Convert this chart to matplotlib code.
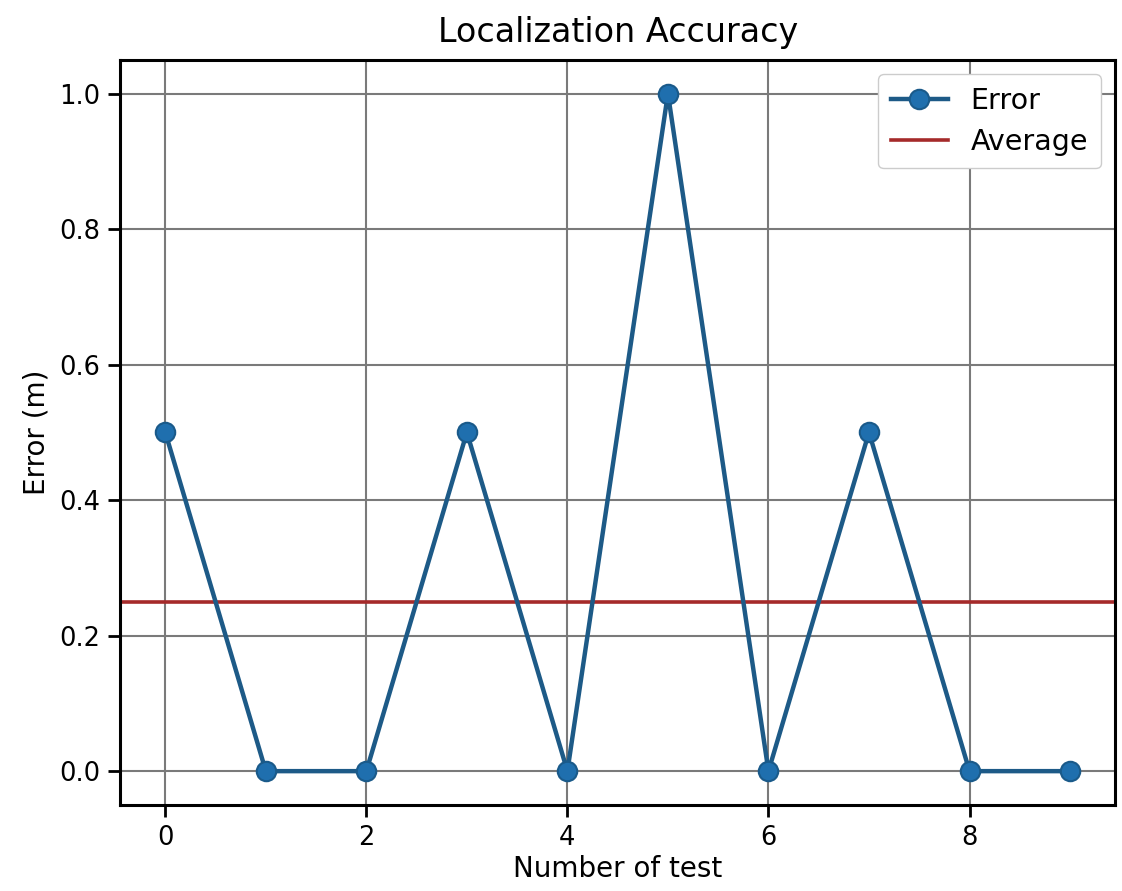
import matplotlib
matplotlib.use("Agg")
import matplotlib.pyplot as plt
import numpy as np

# Localization error for each test run (metres)
tests = list(range(10))
errors = [0.5, 0.0, 0.0, 0.5, 0.0, 1.0, 0.0, 0.5, 0.0, 0.0]
average_error = float(np.mean(errors))

fig = plt.figure(figsize=(11.22, 8.91), dpi=100)
ax = fig.add_axes([0.107, 0.0965, 0.887, 0.8365])

ax.plot(tests, errors, color="#1d5a87", linewidth=3.2, marker="o",
        markersize=14, markerfacecolor="#1f6fae", markeredgecolor="#1a5a8a",
        markeredgewidth=1.5, label="Error", zorder=3)
ax.axhline(average_error, color="#a52a2a", linewidth=2.6, label="Average", zorder=2)

ax.set_xlim(-0.45, 9.45)
ax.set_ylim(-0.05, 1.05)
ax.set_xticks([0, 2, 4, 6, 8])
ax.set_yticks([0.0, 0.2, 0.4, 0.6, 0.8, 1.0])
ax.set_yticklabels(["0.0", "0.2", "0.4", "0.6", "0.8", "1.0"])
ax.grid(True, color="#7a7a7a", linewidth=1.5)
ax.set_axisbelow(True)

ax.tick_params(labelsize=18.5, length=8.5, width=2.0, pad=6)
for s in ax.spines.values():
    s.set_linewidth(2.2)

ax.set_title("Localization Accuracy", fontsize=24, pad=13)
ax.set_xlabel("Number of test", fontsize=20, labelpad=3)
ax.set_ylabel("Error (m)", fontsize=20, labelpad=6)

ax.legend(loc="upper right", fontsize=20.5, handlelength=2.0, framealpha=1,
          edgecolor="#cccccc", borderpad=0.45, labelspacing=0.45)

fig.savefig("out.png", dpi=100)
